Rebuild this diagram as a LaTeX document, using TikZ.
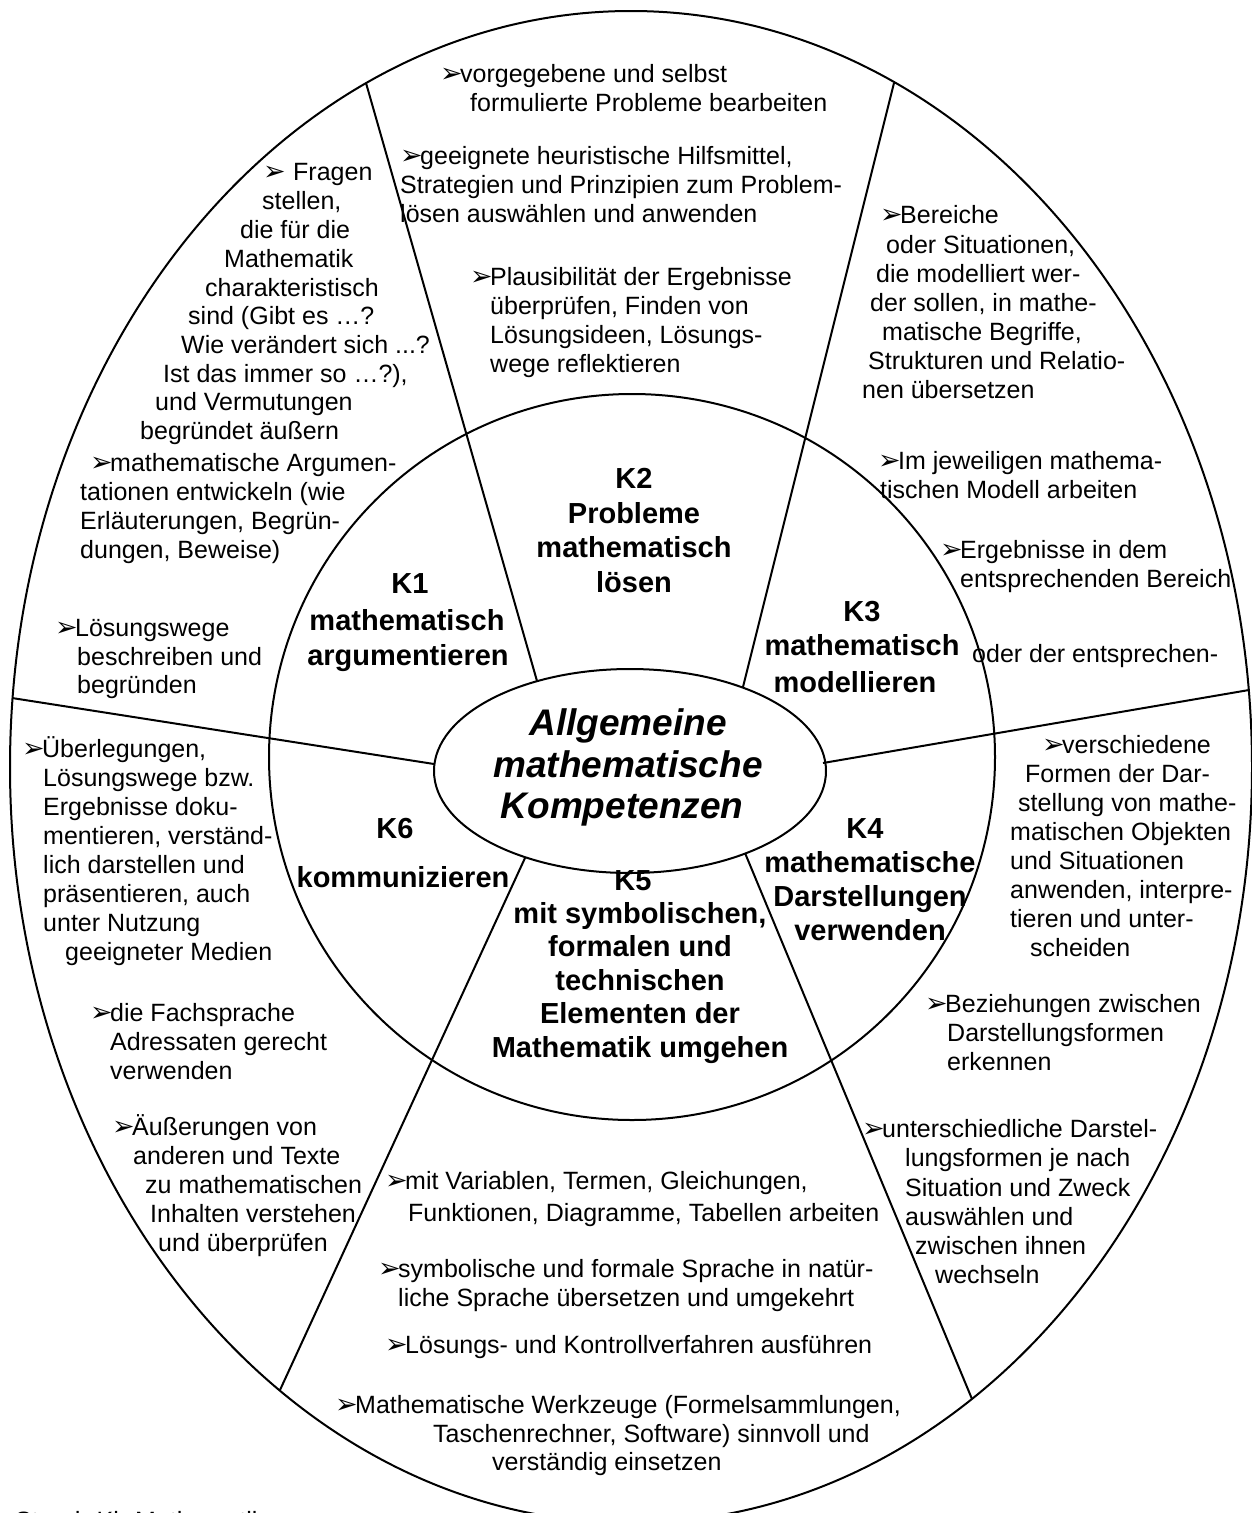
\documentclass[tikz,border=0pt]{standalone}
\usepackage{fontspec}
\setmainfont{Liberation Sans}
\newfontfamily\dejavu{DejaVu Sans}
\newcounter{tl}
\newcommand\bodyfs{\fontsize{25}{29}\selectfont}
\newcommand\bulglyph{{\dejavu\fontsize{27}{27}\selectfont ➢}}
\newcommand\bulsym{\makebox[20pt][l]{\bulglyph}}
\newcommand\TL[3]{\stepcounter{tl}\node[txt] (t\arabic{tl}) at (#1,#2) {#3};}
\newcommand\BL[3]{\stepcounter{tl}\node[txt] (t\arabic{tl}) at (#1,#2) {\bulsym#3};}
\newcommand\KL[3]{\stepcounter{tl}\node[klab] (t\arabic{tl}) at (#1,#2) {#3};}
\newcommand\CL[3]{\stepcounter{tl}\node[clab] (t\arabic{tl}) at (#1,#2) {#3};}
\tikzset{
  txt/.style={anchor=base west, inner sep=0pt, font=\bodyfs},
  klab/.style={anchor=base, inner sep=0pt, font=\fontsize{29}{34}\selectfont\bfseries},
  clab/.style={anchor=base, inner sep=0pt, font=\fontsize{37}{42}\selectfont\bfseries\itshape},
  ln/.style={line width=2pt, black}
}
\begin{document}
\begin{tikzpicture}[x=1pt,y=-1pt]
\useasboundingbox (0,0) rectangle (1251,1513);
% shapes
\draw[ln] (631,767) ellipse [x radius=621pt, y radius=756pt];
\draw[ln] (632,757) circle [radius=363pt];
\draw[ln] (630,771) ellipse [x radius=196pt, y radius=102pt];
% dividing lines
\coordinate (i1) at (537,681); \coordinate (o1) at (366,83);
\coordinate (i2) at (743,687); \coordinate (o2) at (894,83);
\coordinate (i3) at (823,763); \coordinate (o3) at (1249,690);
\coordinate (i4) at (745,853); \coordinate (o4) at (972,1399);
\coordinate (i5) at (525,858); \coordinate (o5) at (280,1390);
\coordinate (i6) at (434,764); \coordinate (o6) at (12,698);
\draw[ln] (i1) -- (o1);
\draw[ln] (i2) -- (o2);
\draw[ln] (i3) -- (o3);
\draw[ln] (i4) -- (o4);
\draw[ln] (i5) -- (o5);
\draw[ln] (i6) -- (o6);
% centre
\CL{628}{735}{Allgemeine}
\CL{628}{777}{mathematische}
\CL{622}{818}{Kompetenzen}
% K labels
\KL{410}{593}{K1}
\KL{407}{630}{mathematisch}
\KL{408}{665}{argumentieren}
\KL{634}{488}{K2}
\KL{634}{523}{Probleme}
\KL{634}{557}{mathematisch}
\KL{634}{592}{lösen}
\KL{862}{621}{K3}
\KL{862}{655}{mathematisch}
\KL{855}{692}{modellieren}
\KL{865}{838}{K4}
\KL{870}{872}{mathematische}
\KL{870}{906}{Darstellungen}
\KL{870}{940}{verwenden}
\KL{633}{890}{K5}
\KL{640}{923}{mit symbolischen,}
\KL{640}{956}{formalen und}
\KL{640}{990}{technischen}
\KL{640}{1023}{Elementen der}
\KL{640}{1057}{Mathematik umgehen}
\KL{395}{838}{K6}
\KL{403}{887}{kommunizieren}
% K2 sector
\BL{440}{82}{vorgegebene und selbst}
\TL{470}{111}{formulierte Probleme bearbeiten}
\BL{400}{164}{geeignete heuristische Hilfsmittel,}
\TL{400}{193}{Strategien und Prinzipien zum Problem-}
\TL{400}{222}{lösen auswählen und anwenden}
\BL{470}{285}{Plausibilität der Ergebnisse}
\TL{490}{314}{überprüfen, Finden von}
\TL{490}{343}{Lösungsideen, Lösungs-}
\TL{490}{372}{wege reflektieren}
% K1 sector
\stepcounter{tl}\node[txt] (t\arabic{tl}) at (263,180) {\makebox[30pt][l]{\bulglyph}Fragen};
\TL{262}{209}{stellen,}
\TL{240}{238}{die für die}
\TL{224}{267}{Mathematik}
\TL{205}{296}{charakteristisch}
\TL{188}{324}{sind (Gibt es …?}
\TL{181}{353}{Wie verändert sich ...?}
\TL{163}{382}{Ist das immer so …?),}
\TL{155}{410}{und Vermutungen}
\TL{140}{439}{begründet äußern}
\BL{90}{471}{mathematische Argumen-}
\TL{80}{500}{tationen entwickeln (wie}
\TL{80}{529}{Erläuterungen, Begrün-}
\TL{80}{558}{dungen, Beweise)}
\BL{55}{636}{Lösungswege}
\TL{77}{665}{beschreiben und}
\TL{77}{693}{begründen}
% K3 sector
\BL{880}{223}{Bereiche}
\TL{886}{253}{oder Situationen,}
\TL{876}{282}{die modelliert wer-}
\TL{870}{311}{der sollen, in mathe-}
\TL{882}{340}{matische Begriffe,}
\TL{868}{369}{Strukturen und Relatio-}
\TL{862}{398}{nen übersetzen}
\BL{878}{469}{Im jeweiligen mathema-}
\TL{880}{498}{tischen Modell arbeiten}
\BL{940}{558}{Ergebnisse in dem}
\TL{960}{587}{entsprechenden Bereich}
\TL{972}{662}{oder der entsprechen-}
% K4 sector
\BL{1042}{753}{verschiedene}
\TL{1025}{782}{Formen der Dar-}
\TL{1018}{811}{stellung von mathe-}
\TL{1010}{840}{matischen Objekten}
\TL{1010}{869}{und Situationen}
\TL{1010}{898}{anwenden, interpre-}
\TL{1010}{927}{tieren und unter-}
\TL{1030}{956}{scheiden}
\BL{925}{1012}{Beziehungen zwischen}
\TL{947}{1041}{Darstellungsformen}
\TL{947}{1070}{erkennen}
\BL{862}{1137}{unterschiedliche Darstel-}
\TL{905}{1166}{lungsformen je nach}
\TL{905}{1196}{Situation und Zweck}
\TL{905}{1225}{auswählen und}
\TL{915}{1254}{zwischen ihnen}
\TL{935}{1283}{wechseln}
% K5 sector
\BL{385}{1189}{mit Variablen, Termen, Gleichungen,}
\TL{408}{1221}{Funktionen, Diagramme, Tabellen arbeiten}
\BL{378}{1277}{symbolische und formale Sprache in natür-}
\TL{398}{1306}{liche Sprache übersetzen und umgekehrt}
\BL{385}{1353}{Lösungs- und Kontrollverfahren ausführen}
\BL{335}{1413}{Mathematische Werkzeuge (Formelsammlungen,}
\TL{433}{1442}{Taschenrechner, Software) sinnvoll und}
\TL{492}{1470}{verständig einsetzen}
% K6 sector
\BL{22}{757}{Überlegungen,}
\TL{43}{786}{Lösungswege bzw.}
\TL{43}{815}{Ergebnisse doku-}
\TL{43}{844}{mentieren, verständ-}
\TL{43}{873}{lich darstellen und}
\TL{43}{902}{präsentieren, auch}
\TL{43}{931}{unter Nutzung}
\TL{65}{960}{geeigneter Medien}
\BL{90}{1021}{die Fachsprache}
\TL{110}{1050}{Adressaten gerecht}
\TL{110}{1079}{verwenden}
\BL{112}{1135}{Äußerungen von}
\TL{133}{1164}{anderen und Texte}
\TL{145}{1193}{zu mathematischen}
\TL{150}{1222}{Inhalten verstehen}
\TL{158}{1251}{und überprüfen}
% footer (cut off at the page edge, as in the reference)
\TL{15}{1529}{Stand: Kl. Mathematik}
\end{tikzpicture}
\end{document}
